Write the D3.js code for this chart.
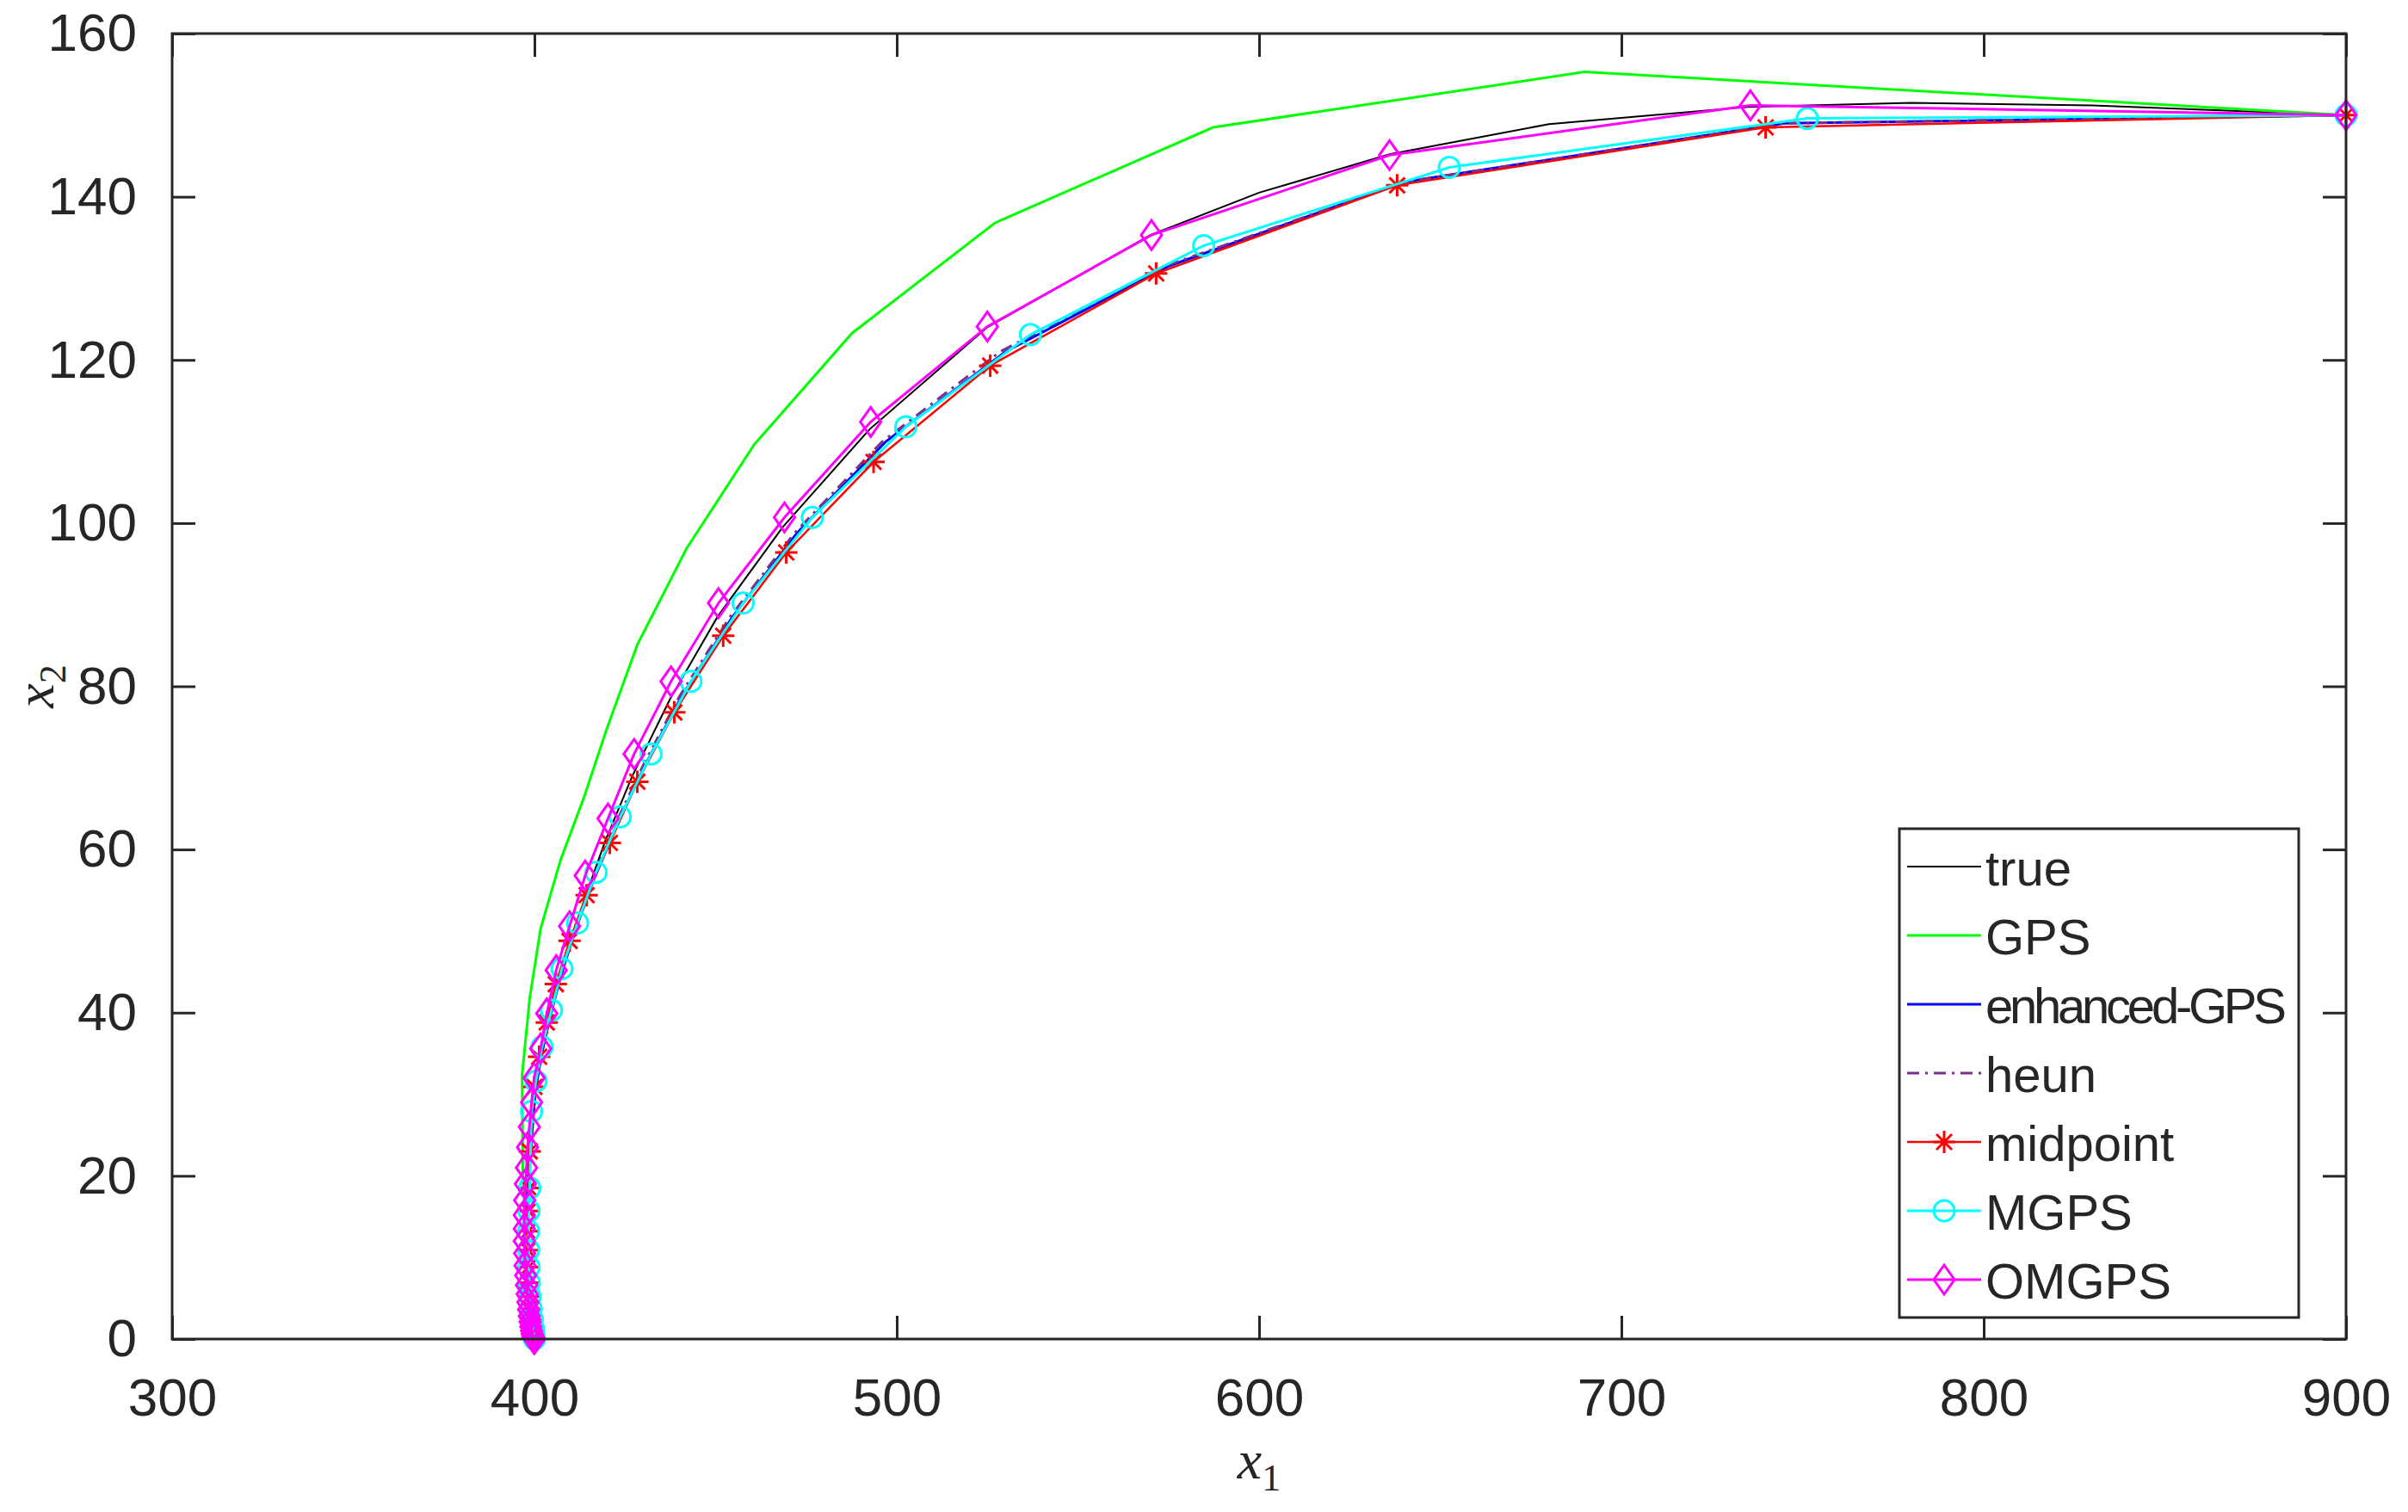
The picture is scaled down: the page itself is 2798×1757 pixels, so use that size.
<!DOCTYPE html>
<html>
<head>
<meta charset="utf-8">
<script src="https://cdn.jsdelivr.net/npm/d3@7"></script>
<style>
  body { margin: 0; background: #fff; }
  text { font-family: "Liberation Sans", Arial, sans-serif; fill: #262626; }
</style>
</head>
<body>
<svg id="chart" width="2798" height="1757"></svg>
<script>
// Data
const xTicks = [300, 400, 500, 600, 700, 800, 900];
const yTicks = [0, 20, 40, 60, 80, 100, 120, 140, 160];

const trueX = [400, 399.4, 398.6, 398.0, 397.7, 397.8, 398.3, 399.3, 400.8, 402.8, 405.5, 409.0, 413.5, 419.5, 427.0, 437.5, 450.5, 468.5, 492.5, 525, 570, 600, 636, 680, 735, 780, 830, 900];
const trueY = [0, 3, 7, 11, 15, 19, 23, 27.5, 32, 36.5, 41.5, 47, 53.5, 61, 69, 78.5, 88.5, 99.5, 111.5, 124, 135.3, 140.5, 145.2, 148.9, 151.0, 151.5, 151.2, 150];

const gpsX = [400, 398.0, 396.8, 396.6, 398.7, 401.7, 407.2, 413.6, 419.9, 428.4, 442.0, 460.6, 487.7, 527.1, 587.3, 689.8, 900];
const gpsY = [0, 10, 20, 32.4, 41.8, 50.3, 58.7, 66.3, 74.7, 85.1, 96.9, 109.6, 123.3, 136.8, 148.5, 155.3, 150];

const egpsX = [400, 398.8, 398.3, 398.2, 398.5, 399.3, 400.2, 401.8, 404.2, 407.1, 411.2, 416.2, 422.5, 430.5, 440.8, 454.5, 472.5, 497.0, 530.0, 575.0, 640.0, 745.0, 900];
const egpsY = [0, 5, 10, 15, 20, 25, 30, 34.6, 39.2, 44.3, 50.0, 56.1, 62.8, 70.3, 78.9, 88.4, 98.8, 110.0, 121.0, 131.5, 141.8, 149.0, 150];

const heunX = [400, 398.8, 398.3, 398.2, 398.5, 399.2, 400.1, 401.6, 403.9, 406.8, 410.8, 415.8, 422.0, 430.0, 440.2, 453.8, 471.8, 496.0, 528.5, 574.0, 640.0, 745.0, 900];
const heunY = [0, 5, 10, 15, 20, 25, 30, 34.6, 39.2, 44.3, 50.0, 56.1, 62.8, 70.3, 78.9, 88.4, 98.8, 110.0, 121.0, 131.5, 141.8, 149.0, 150];

const midX = [400, 399.8, 399.5, 399.2, 398.9, 398.6, 398.4, 398.3, 398.2, 398.2, 398.3, 398.5, 398.7, 400.0, 401.3, 403.4, 405.9, 409.7, 414.4, 420.8, 428.4, 438.6, 452.1, 469.5, 493.6, 525.8, 571.6, 638.1, 739.8, 900];
const midY = [0, 0.5, 1.3, 2.4, 3.7, 5.2, 6.9, 8.8, 10.9, 13.2, 15.7, 18.5, 23.0, 30.9, 34.6, 38.8, 43.5, 48.8, 54.4, 60.8, 68.3, 76.8, 86.2, 96.4, 107.5, 119.3, 130.6, 141.4, 148.5, 150];

const mgpsX = [400, 399.9, 399.7, 399.4, 399.1, 398.8, 398.6, 398.5, 398.4, 398.4, 398.5, 398.7, 399.2, 400.4, 402.1, 404.7, 407.6, 411.9, 417.0, 423.7, 432.2, 443.2, 457.6, 476.7, 502.5, 536.9, 584.7, 652.5, 751.3, 900];
const mgpsY = [0, 0.5, 1.3, 2.4, 3.7, 5.2, 6.9, 8.8, 10.9, 13.2, 15.7, 18.5, 27.9, 31.6, 35.8, 40.3, 45.4, 51.0, 57.2, 64.0, 71.7, 80.6, 90.2, 100.7, 111.8, 123.1, 134.0, 143.6, 149.6, 150];

const omX = [400, 399.8, 399.6, 399.4, 399.2, 399.0, 398.8, 398.6, 398.4, 398.2, 398.0, 397.8, 397.6, 397.4, 397.3, 397.2, 397.2, 397.2, 397.3, 397.5, 397.8, 398.1, 398.6, 399.2, 399.9, 401.7, 403.4, 406.0, 409.7, 414.0, 420.3, 427.5, 437.7, 450.8, 469.0, 492.8, 525.0, 570.3, 636.0, 735.6, 900];
const omY = [0, 0.1, 0.3, 0.6, 1.0, 1.5, 2.1, 2.8, 3.6, 4.5, 5.5, 6.6, 7.8, 9.0, 10.5, 12.0, 13.5, 15.2, 17.0, 19.0, 21.0, 23.5, 26.0, 29.0, 32.0, 35.6, 39.9, 45.2, 50.6, 56.8, 63.8, 71.7, 80.6, 90.2, 100.7, 112.4, 124.1, 135.3, 145.1, 151.2, 150];

const seriesNames = ["true", "GPS", "enhanced-GPS", "heun", "midpoint", "MGPS", "OMGPS"];

const series = [
  {name: seriesNames[0], xs: trueX, ys: trueY, color: "#000000", width: 2, dash: null, marker: null},
  {name: seriesNames[1], xs: gpsX, ys: gpsY, color: "#00ff00", width: 3, dash: null, marker: null},
  {name: seriesNames[2], xs: egpsX, ys: egpsY, color: "#0000ff", width: 3, dash: null, marker: null},
  {name: seriesNames[3], xs: heunX, ys: heunY, color: "#7e2f8e", width: 3, dash: "14,7,3,7", marker: null},
  {name: seriesNames[4], xs: midX, ys: midY, color: "#ff0000", width: 2.5, dash: null, marker: "star"},
  {name: seriesNames[5], xs: mgpsX, ys: mgpsY, color: "#00ffff", width: 3, dash: null, marker: "circle"},
  {name: seriesNames[6], xs: omX, ys: omY, color: "#ff00ff", width: 3, dash: null, marker: "diamond"}
];

const margin = {top: 39, right: 72, bottom: 201, left: 200};
const W = 2798, H = 1757;
const iw = W - margin.left - margin.right;
const ih = H - margin.top - margin.bottom;

const svg = d3.select("#chart");
const g = svg.append("g").attr("transform", `translate(${margin.left},${margin.top})`);

const x = d3.scaleLinear().domain([300, 900]).range([0, iw]);
const y = d3.scaleLinear().domain([0, 160]).range([ih, 0]);

const axisColor = "#262626";
const tickLen = 27;

function styleAxis(sel) {
  sel.select(".domain").remove();
  sel.selectAll(".tick line").attr("stroke", axisColor).attr("stroke-width", 3);
  sel.selectAll(".tick text").style("font-size", "62px").attr("fill", axisColor);
}

// bottom / left axes with inward ticks
g.append("g").attr("transform", `translate(0,${ih})`)
  .call(d3.axisBottom(x).tickValues(xTicks).tickSize(-tickLen).tickPadding(tickLen + 18))
  .call(styleAxis);
g.append("g")
  .call(d3.axisLeft(y).tickValues(yTicks).tickSize(-tickLen).tickPadding(tickLen + 14))
  .call(styleAxis);
// top / right ticks
g.append("g").call(d3.axisTop(x).tickValues(xTicks).tickSize(-tickLen).tickFormat(""))
  .call(styleAxis);
g.append("g").attr("transform", `translate(${iw},0)`)
  .call(d3.axisRight(y).tickValues(yTicks).tickSize(-tickLen).tickFormat(""))
  .call(styleAxis);

const plot = g.append("g");
plot.append("defs").append("clipPath").attr("id", "clip")
  .append("rect").attr("x", -25).attr("y", -25).attr("width", iw + 50).attr("height", ih + 50);
plot.attr("clip-path", "url(#clip)");

const line = d3.line().x(d => x(d[0])).y(d => y(d[1]));

function drawMarker(sel, type, color) {
  if (type === "star") {
    sel.append("path").attr("d", "M-13,0H13M0,-13V13M-9,-9L9,9M-9,9L9,-9")
      .attr("stroke", color).attr("stroke-width", 3).attr("fill", "none");
  } else if (type === "circle") {
    sel.append("ellipse").attr("rx", 12).attr("ry", 12)
      .attr("stroke", color).attr("stroke-width", 3).attr("fill", "none");
  } else if (type === "diamond") {
    sel.append("path").attr("d", "M0,-17L12,0L0,17L-12,0Z")
      .attr("stroke", color).attr("stroke-width", 3).attr("fill", "none");
  }
}

series.forEach(s => {
  const pts = s.xs.map((v, i) => [v, s.ys[i]]);
  plot.append("path").datum(pts)
    .attr("d", line)
    .attr("fill", "none")
    .attr("stroke", s.color)
    .attr("stroke-width", s.width)
    .attr("stroke-dasharray", s.dash);
  if (s.marker) {
    plot.selectAll(null).data(pts).enter().append("g")
      .attr("transform", d => `translate(${x(d[0])},${y(d[1])})`)
      .each(function() { drawMarker(d3.select(this), s.marker, s.color); });
  }
});

// box
g.append("rect").attr("width", iw).attr("height", ih)
  .attr("fill", "none").attr("stroke", axisColor).attr("stroke-width", 3);

// axis labels
const xl = svg.append("text").attr("x", margin.left + iw / 2).attr("y", 1718)
  .attr("text-anchor", "middle")
  .style("font-family", "'Liberation Serif', 'DejaVu Serif', serif").style("font-style", "italic").style("font-size", "64px");
xl.append("tspan").text("x");
xl.append("tspan").attr("dy", 14).style("font-size", "44px").style("font-style", "normal").text("1");

const yl = svg.append("text").attr("transform", `translate(62,${margin.top + ih / 2}) rotate(-90)`)
  .attr("text-anchor", "middle")
  .style("font-family", "'Liberation Serif', 'DejaVu Serif', serif").style("font-style", "italic").style("font-size", "64px");
yl.append("tspan").text("x");
yl.append("tspan").attr("dy", 14).style("font-size", "44px").style("font-style", "normal").text("2");

// legend
const lg = svg.append("g").attr("transform", "translate(2207,963)");
lg.append("rect").attr("width", 464).attr("height", 568)
  .attr("fill", "#fff").attr("stroke", axisColor).attr("stroke-width", 3);
series.forEach((s, i) => {
  const row = lg.append("g").attr("transform", `translate(0,${44 + i * 80})`);
  row.append("line").attr("x1", 9).attr("x2", 95)
    .attr("stroke", s.color).attr("stroke-width", s.width).attr("stroke-dasharray", s.dash);
  if (s.marker) {
    const m = row.append("g").attr("transform", "translate(52,0)");
    drawMarker(m, s.marker, s.color);
  }
  row.append("text").attr("x", 100).attr("y", 22).style("font-size", "58px")
    .attr("textLength", s.name.length > 8 ? 350 : null).attr("fill", "#000").text(s.name);
});
</script>
</body>
</html>
